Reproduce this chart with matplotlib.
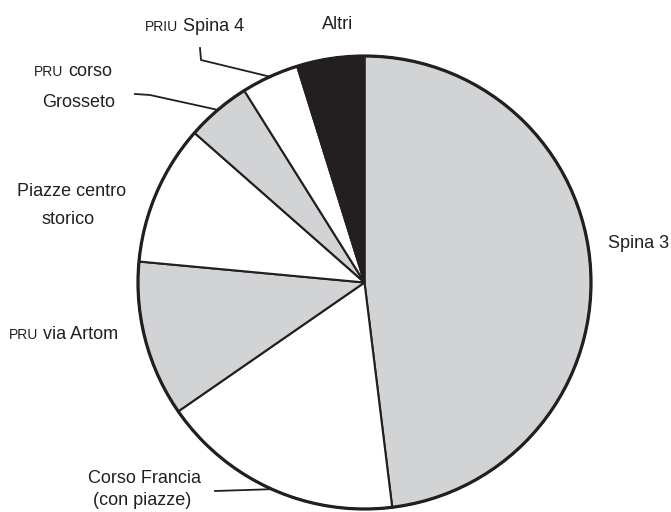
import numpy as np
import matplotlib.pyplot as plt

# quote per area di trasformazione (percentuali)
aree = ["Spina 3", "Corso Francia (con piazze)", "PRU via Artom", "Piazze centro storico",
        "PRU corso Grosseto", "PRIU Spina 4", "Altri"]
quote = [48.0, 17.3, 11.1, 10.0, 4.6, 4.1, 4.8]
colori = ["#d1d3d4", "white", "#d1d3d4", "white", "#d1d3d4", "white", "#231f20"]

W, H = 671, 512
fig = plt.figure(figsize=(W / 100, H / 100), dpi=100)

cx, cy, r = 364.5, 282.5, 226.5
ax = fig.add_axes([(cx - r) / W, (H - cy - r) / H, 2 * r / W, 2 * r / H])

wedges, _ = ax.pie(quote, colors=colori, startangle=90, counterclock=False, radius=1,
                   wedgeprops=dict(edgecolor="#231f20", linewidth=1.5))
ax.add_patch(plt.Circle((0, 0), 1, fill=False, edgecolor="#231f20", linewidth=2.3, clip_on=False))
# pie() resets the limits, so fix them afterwards
ax.set_xlim(-1, 1)
ax.set_ylim(-1, 1)
ax.set_aspect("equal")
ax.axis("off")

def px(x, y):
    return ((x - cx) / r, (cy - y) / r)

def testo(x, y, s, size=13):
    fig.text(x / W, 1 - y / H, s, fontsize=size, family=["Liberation Sans", "DejaVu Sans"],
             color="#231f20", ha="left", va="baseline")

def richiamo(idx, punti):
    w = wedges[idx]
    a = np.deg2rad((w.theta1 + w.theta2) / 2)
    xs = [px(*p)[0] for p in punti] + [np.cos(a)]
    ys = [px(*p)[1] for p in punti] + [np.sin(a)]
    ax.plot(xs, ys, color="#231f20", linewidth=1.3, clip_on=False)

# etichette
testo(608, 248, "Spina 3")
testo(88, 483, "Corso Francia")
testo(93, 505, "(con piazze)")
testo(9, 339, "PRU", 10)
testo(43, 339, "via Artom")
testo(17, 196, "Piazze centro")
testo(41, 224, "storico")
testo(34, 76, "PRU", 10)
testo(68, 76, "corso")
testo(42, 107, "Grosseto")
testo(145, 31, "PRIU", 10)
testo(183, 31, "Spina 4")
testo(322, 29, "Altri")

# linee di richiamo
richiamo(1, [(215, 491)])
richiamo(4, [(135, 94), (150, 95)])
richiamo(5, [(200, 48), (201, 60)])

fig.savefig("out.png", dpi=100, facecolor="white")
